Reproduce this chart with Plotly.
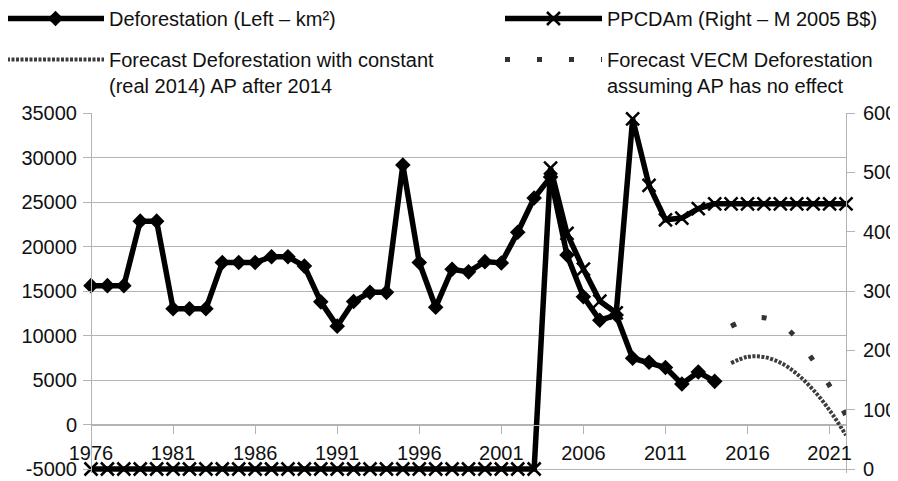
import plotly.graph_objects as go

# ---------------- data ----------------
years_def = [1976, 1977, 1978, 1979, 1980, 1981, 1982, 1983, 1984, 1985,
             1986, 1987, 1988, 1989, 1990, 1991, 1992, 1993, 1994, 1995,
             1996, 1997, 1998, 1999, 2000, 2001, 2002, 2003, 2004, 2005,
             2006, 2007, 2008, 2009, 2010, 2011, 2012, 2013, 2014]
deforestation = [15600, 15600, 15600, 22850, 22850, 13000, 13000, 13000, 18200, 18200,
                 18200, 18850, 18850, 17800, 13780, 11050, 13820, 14850, 14850, 29150,
                 18200, 13180, 17450, 17150, 18300, 18150, 21600, 25450, 27800, 19050,
                 14350, 11720, 12300, 7450, 7000, 6400, 4550, 5900, 4850]

years_ap = [1976, 1977, 1978, 1979, 1980, 1981, 1982, 1983, 1984, 1985,
            1986, 1987, 1988, 1989, 1990, 1991, 1992, 1993, 1994, 1995,
            1996, 1997, 1998, 1999, 2000, 2001, 2002, 2003, 2004, 2005,
            2006, 2007, 2008, 2009, 2010, 2011, 2012, 2013, 2014, 2015,
            2016, 2017, 2018, 2019, 2020, 2021, 2022]
ppcdam = [0, 0, 0, 0, 0, 0, 0, 0, 0, 0,
          0, 0, 0, 0, 0, 0, 0, 0, 0, 0,
          0, 0, 0, 0, 0, 0, 0, 0, 507, 397,
          337, 283, 263, 590, 478, 420, 423, 439, 447, 447,
          447, 447, 447, 447, 447, 447, 447]

years_fc = [2015, 2016, 2017, 2018, 2019, 2020, 2021, 2022]
fc_constant_ap = [6900, 7600, 7580, 6950, 5700, 3900, 1600, -1200]
fc_vecm = [11050, 11800, 12000, 11300, 9700, 7200, 4350, 1000]

names = ["Deforestation (Left – km²)",
         "PPCDAm (Right – M 2005 B$)",
         "Forecast Deforestation with constant<br>(real 2014) AP after 2014",
         "Forecast VECM Deforestation<br>assuming AP has no effect"]

left_tickvals = [-5000, 0, 5000, 10000, 15000, 20000, 25000, 30000, 35000]
left_ticktext = ["-5000", "0", "5000", "10000", "15000", "20000", "25000", "30000", "35000"]
right_tickvals = [0, 100, 200, 300, 400, 500, 600]
right_ticktext = ["0", "100", "200", "300", "400", "500", "600"]
x_tickvals = [1976, 1981, 1986, 1991, 1996, 2001, 2006, 2011, 2016, 2021]
x_ticktext = ["1976", "1981", "1986", "1991", "1996", "2001", "2006", "2011", "2016", "2021"]

# ---------------- layout geometry ----------------
# the page body has the browser's default 8px margin, so the figure is sized
# to fill the rest of the 898x481 window
BODY = 8
W, H = 898 - BODY, 481 - BODY
m_l, m_r, m_t = 83, 52, 105
plot_h_nominal = 356           # px between top (35000 / 600) and -5000 / 0
pad_px = 4                     # small extension so bottom line is not clipped
left_top, left_bot = 35000, -5000
right_top, right_bot = 600, 0
left_ppx = (left_top - left_bot) / plot_h_nominal
right_ppx = (right_top - right_bot) / plot_h_nominal
left_range = [left_bot - pad_px * left_ppx, left_top]
right_range = [right_bot - pad_px * right_ppx, right_top]
plot_h = plot_h_nominal + pad_px
plot_w = W - m_l - m_r
m_b = H - m_t - plot_h
x_pos = (0 - left_range[0]) / (left_range[1] - left_range[0])


def px_to_paper(px, py):
    return (px - m_l) / plot_w, 1 - (py - m_t) / plot_h


FONT = "Liberation Sans"
GRID = "#b3b3b3"
TXT = "#111111"

fig = go.Figure()

fig.add_trace(go.Scatter(
    x=years_def, y=deforestation, name=names[0], mode="lines+markers",
    line=dict(color="black", width=5.5),
    marker=dict(symbol="diamond", size=12, color="black"),
    yaxis="y", legend="legend", cliponaxis=False))

fig.add_trace(go.Scatter(
    x=years_ap, y=ppcdam, name=names[1], mode="lines+markers",
    line=dict(color="black", width=5.5),
    marker=dict(symbol="x-thin", size=13, color="black",
                line=dict(color="black", width=2.5)),
    yaxis="y2", legend="legend2", cliponaxis=False))

fig.add_trace(go.Scatter(
    x=years_fc, y=fc_constant_ap, name=names[2], mode="lines",
    line=dict(color="#3c3c3c", width=4, dash="3px,1.5px", shape="spline", smoothing=1),
    yaxis="y", legend="legend3"))

fig.add_trace(go.Scatter(
    x=years_fc, y=fc_vecm, name=names[3], mode="lines",
    line=dict(color="#333333", width=5, dash="5px,27px", shape="spline", smoothing=1),
    yaxis="y", legend="legend4"))

leg_common = dict(xref="paper", yref="paper", xanchor="left", yanchor="top",
                  orientation="h",
                  bgcolor="rgba(0,0,0,0)", borderwidth=0, itemwidth=97,
                  valign="top", font=dict(family=FONT, size=20, color=TXT),
                  itemclick=False, itemdoubleclick=False)

l1x, l1y = px_to_paper(-6, -9)
l2x, l2y = px_to_paper(492, -9)
l3x, l3y = px_to_paper(-6, 32)
l4x, l4y = px_to_paper(492, 32)

fig.update_layout(
    width=W, height=H,
    margin=dict(l=m_l, r=m_r, t=m_t, b=m_b, pad=0, autoexpand=False),
    paper_bgcolor="white", plot_bgcolor="white",
    font=dict(family=FONT, size=20, color=TXT),
    showlegend=True,
    legend=dict(x=l1x, y=l1y, **leg_common),
    legend2=dict(x=l2x, y=l2y, **leg_common),
    legend3=dict(x=l3x, y=l3y, **leg_common),
    legend4=dict(x=l4x, y=l4y, **leg_common),
    xaxis=dict(range=[1976, 2022], anchor="free", position=x_pos,
               tickvals=x_tickvals, ticktext=x_ticktext,
               showgrid=False, zeroline=False, showline=True, linecolor=GRID, linewidth=1,
               ticks="outside", ticklen=8, tickcolor=GRID, tickwidth=1, ticklabelstandoff=2,
               tickfont=dict(family=FONT, size=20, color=TXT)),
    yaxis=dict(range=left_range, anchor="free", position=0.0,
               tickvals=left_tickvals, ticktext=left_ticktext,
               showgrid=True, gridcolor=GRID, gridwidth=1, zeroline=False,
               showline=True, linecolor=GRID, linewidth=1,
               ticks="outside", ticklen=8, tickcolor=GRID, tickwidth=1, ticklabelstandoff=2,
               tickfont=dict(family=FONT, size=20, color=TXT)),
    yaxis2=dict(range=right_range, overlaying="y", side="right", anchor="free", position=1.0,
                tickvals=right_tickvals, ticktext=right_ticktext,
                showgrid=False, zeroline=False,
                showline=True, linecolor=GRID, linewidth=1,
                ticks="outside", ticklen=8, tickcolor=GRID, tickwidth=1, ticklabelstandoff=4,
                tickfont=dict(family=FONT, size=20, color=TXT)),
)

fig.write_html("out.html")
